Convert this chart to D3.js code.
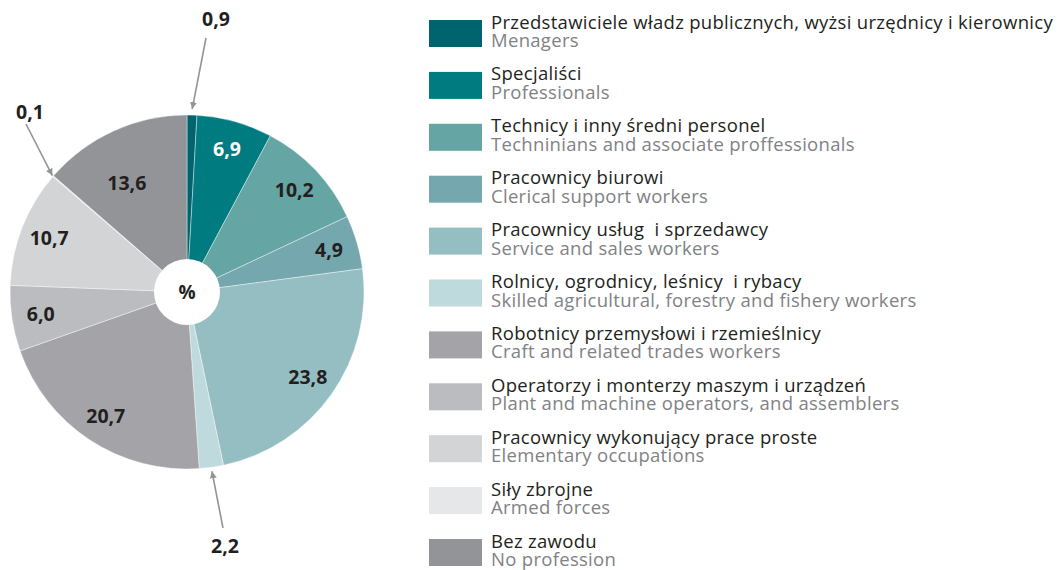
<!DOCTYPE html>
<html>
<head>
<meta charset="utf-8">
<script src="https://cdn.jsdelivr.net/npm/d3@7"></script>
<style>
  body { margin: 0; background: #fff; }
  text { font-family: "Open Sans", "Noto Sans", sans-serif; white-space: pre; }
</style>
</head>
<body>
<div id="chart"></div>
<script>
// Data
const labelsPl = [
  'Przedstawiciele władz publicznych, wyżsi urzędnicy i kierownicy',
  'Specjaliści',
  'Technicy i inny średni personel',
  'Pracownicy biurowi',
  'Pracownicy usług  i sprzedawcy',
  'Rolnicy, ogrodnicy, leśnicy  i rybacy',
  'Robotnicy przemysłowi i rzemieślnicy',
  'Operatorzy i monterzy maszym i urządzeń',
  'Pracownicy wykonujący prace proste',
  'Siły zbrojne',
  'Bez zawodu'
]
const labelsEn = [
  'Menagers',
  'Professionals',
  'Techninians and associate proffessionals',
  'Clerical support workers',
  'Service and sales workers',
  'Skilled agricultural, forestry and fishery workers',
  'Craft and related trades workers',
  'Plant and machine operators, and assemblers',
  'Elementary occupations',
  'Armed forces',
  'No profession'
]
const values = [0.9, 6.9, 10.2, 4.9, 23.8, 2.2, 20.7, 6.0, 10.7, 0.1, 13.6]
const colors = ['#00646e', '#007b80', '#65a5a3', '#74a8ae', '#95bec3', '#bfdadc',
  '#a4a4a8', '#bbbcbf', '#d3d4d6', '#e6e7e8', '#939498']

;(() => {
  const width = 1059
  const height = 570
  const cx = 187
  const cy = 292
  const radius = 177
  const holeR = 33

  const svg = d3.select('#chart')
    .append('svg')
    .attr('width', width)
    .attr('height', height)

  const defs = svg.append('defs')
  defs.append('marker')
    .attr('id', 'arrow')
    .attr('viewBox', '0 0 10 10')
    .attr('refX', 10)
    .attr('refY', 5)
    .attr('markerWidth', 7)
    .attr('markerHeight', 7)
    .attr('markerUnits', 'userSpaceOnUse')
    .attr('orient', 'auto')
    .append('path')
    .attr('d', 'M0,0 L10,5 L0,10 Z')
    .attr('fill', '#939498')

  const data = values.map((v, i) => ({ value: v, pl: labelsPl[i], en: labelsEn[i], color: colors[i], i }))

  const pie = d3.pie().value(d => d.value).sort(null)
  const arcs = pie(data)

  const arc = d3.arc().innerRadius(0).outerRadius(radius)

  const g = svg.append('g').attr('transform', `translate(${cx}, ${cy})`)

  // Slices
  g.selectAll('path.slice')
    .data(arcs)
    .enter()
    .append('path')
    .attr('class', 'slice')
    .attr('d', arc)
    .attr('fill', d => d.data.color)
    .attr('stroke', '#fff')
    .attr('stroke-width', 0.4)

  // Center hole
  g.append('circle').attr('r', holeR).attr('fill', '#fff')
  g.append('text')
    .attr('text-anchor', 'middle')
    .attr('dy', '0.35em')
    .attr('font-size', 19)
    .attr('font-weight', 'bold')
    .attr('fill', '#231f20')
    .text('%')

  const fmt = v => d3.format('.1f')(v).replace('.', ',')
  const polar = (a, r) => [r * Math.sin(a), -r * Math.cos(a)]
  const mid = d => (d.startAngle + d.endAngle) / 2
  const labelR = d => d.index === 10 ? 124 : 148

  // Inside labels
  const inside = arcs.filter(d => d.data.value >= 3)
  g.selectAll('text.val')
    .data(inside)
    .enter()
    .append('text')
    .attr('class', 'val')
    .attr('x', d => polar(mid(d) - (d.index === 10 ? 0.08 : 0), labelR(d))[0])
    .attr('y', d => polar(mid(d) - (d.index === 10 ? 0.08 : 0), labelR(d))[1])
    .attr('dy', '0.35em')
    .attr('text-anchor', 'middle')
    .attr('font-size', 19.5)
    .attr('font-weight', 'bold')
    .attr('fill', d => d.index <= 1 ? '#fff' : '#231f20')
    .text(d => fmt(d.data.value))

  // Outside labels with arrows
  const callouts = [
    { idx: 0, tipR: radius + 6, tail: [206, 38], text: [216, 19] },
    { idx: 9, tipR: radius + 1, tail: [26, 124], text: [30, 112] },
    { idx: 5, tipR: radius + 4, tail: [223, 528], text: [225, 546] }
  ]
  callouts.forEach(c => {
    const d = arcs[c.idx]
    const [tx, ty] = polar(mid(d), c.tipR)
    svg.append('line')
      .attr('x1', c.tail[0])
      .attr('y1', c.tail[1])
      .attr('x2', cx + tx)
      .attr('y2', cy + ty)
      .attr('stroke', '#939498')
      .attr('stroke-width', 1.6)
      .attr('marker-end', 'url(#arrow)')
    svg.append('text')
      .attr('x', c.text[0])
      .attr('y', c.text[1])
      .attr('dy', '0.35em')
      .attr('text-anchor', 'middle')
      .attr('font-size', 19.5)
      .attr('font-weight', 'bold')
      .attr('fill', '#231f20')
      .text(fmt(d.data.value))
  })

  // Legend
  const legend = svg.append('g').attr('transform', 'translate(429, 20)')
  const rowH = 51.9
  const items = legend.selectAll('g.item')
    .data(data)
    .enter()
    .append('g')
    .attr('class', 'item')
    .attr('transform', (d, i) => `translate(0, ${i * rowH})`)

  items.append('rect')
    .attr('width', 53)
    .attr('height', 27)
    .attr('fill', d => d.color)

  items.append('text')
    .attr('x', 62)
    .attr('y', 8.5)
    .attr('font-size', 18.5)
    .attr('letter-spacing', 0.3)
    .attr('fill', '#231f20')
    .text(d => d.pl)

  items.append('text')
    .attr('x', 62)
    .attr('y', 27)
    .attr('font-size', 18.5)
    .attr('letter-spacing', 0.3)
    .attr('fill', '#808285')
    .text(d => d.en)
})()
</script>
</body>
</html>
